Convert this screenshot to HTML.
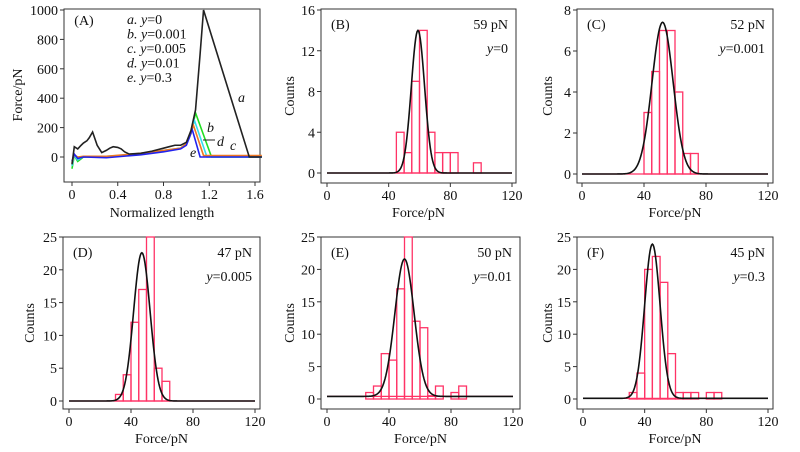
<!DOCTYPE html>
<html><head><meta charset="utf-8"><style>
body{margin:0;background:#fff;}
svg{display:block;}
svg text{font-family:"Liberation Serif","Times New Roman",serif;}
</style></head><body>
<svg id="fig" width="800" height="452" viewBox="0 0 800 452" font-family="Liberation Serif, serif"></svg>
<script>
const histBins=[0,5,10,15,20,25,30,35,40,45,50,55,60,65,70,75,80,85,90,95,100,105,110,115];
const countsB=[0,0,0,0,0,0,0,0,0,4,2,9,14,4,2,2,2,0,0,1,0,0,0,0];
const countsC=[0,0,0,0,0,0,0,0,3,5,7,7,4,1,1,0,0,0,0,0,0,0,0,0];
const countsD=[0,0,0,0,0,0,1,4,12,17,25,5,3,0,0,0,0,0,0,0,0,0,0,0];
const countsE=[0,0,0,0,0,1,2,7,6,17,25,12,11,0.5,2,0,1,2,0,0,0,0,0,0];
const countsF=[0,0,0,0,0,0,1,4,20,22,18,7,1,1,1,0,1,1,0,0,0,0,0,0];
const fitMeans=[59,52,47,50,45];
const fitPeaks=[14,7.4,22.6,21.2,23.8];
const fitSigmas=[4.3,6.8,5.3,6.2,5.0];
const fitBase=[0,0,0,0.4,0.1];
const panelLabels=["(B)","(C)","(D)","(E)","(F)"];
const forceLabels=["59 pN","52 pN","47 pN","50 pN","45 pN"];
const yLabels=["0","0.001","0.005","0.01","0.3"];
const yMaxes=[16,8,25,25,25];
const yTickSteps=[4,2,5,5,5];
const xTicks=[0,40,80,120];
// panel A
const aTicksX=[0,0.4,0.8,1.2,1.6];
const aTicksY=[0,200,400,600,800,1000];
const curveA_x=[0,0.02,0.05,0.08,0.1,0.13,0.15,0.18,0.22,0.26,0.3,0.33,0.36,0.4,0.43,0.46,0.5,0.6,0.7,0.8,0.85,0.9,0.95,1.0,1.04,1.08,1.12,1.15,1.55,1.66];
const curveA_y=[-50,70,55,80,95,110,130,170,80,30,45,60,70,65,55,35,20,25,40,60,70,80,80,100,180,320,700,1000,0,0];
const curveB_x=[0,0.02,0.05,0.1,0.3,0.6,0.8,0.95,1.0,1.04,1.08,1.22,1.66];
const curveB_y=[-80,10,-30,0,0,20,40,60,90,160,300,0,0];
const curveC_x=[0,0.02,0.05,0.1,0.3,0.6,0.8,0.95,1.0,1.04,1.07,1.18,1.66];
const curveC_y=[-60,10,-20,5,5,20,45,60,90,160,250,0,0];
const curveD_x=[0,0.02,0.05,0.1,0.3,0.6,0.8,0.95,1.0,1.04,1.06,1.15,1.66];
const curveD_y=[-40,15,0,5,5,25,45,60,90,160,220,10,10];
const curveE_x=[0,0.02,0.05,0.1,0.3,0.6,0.8,0.95,1.0,1.03,1.05,1.12,1.66];
const curveE_y=[-30,20,-10,0,-5,15,35,55,80,140,190,0,0];

const NS="http://www.w3.org/2000/svg";
const svg=document.getElementById('fig');
function mk(tag,attrs,parent){const e=document.createElementNS(NS,tag);for(const k in attrs)e.setAttribute(k,attrs[k]);(parent||svg).appendChild(e);return e;}
function txt(x,y,s,attrs,parent){const t=mk('text',Object.assign({x:x,y:y,'font-size':14,fill:'#111','font-family':'Liberation Serif, serif'},attrs||{}),parent);t.textContent=s;return t;}

// Panel A
(function(){
 const g=mk('g',{});
 
 
 const L=64,R=260,T=9,B=182;
 const sx=v=>72+v*(255-72)/1.6, sy=v=>157-v*(157-10)/1000;
 const box=mk('rect',{x:L,y:T,width:R-L,height:B-T,fill:'none',stroke:'#333','stroke-width':1},g);
 
 
 aTicksX.forEach(v=>{mk('line',{x1:sx(v),x2:sx(v),y1:B,y2:B+4,stroke:'#333'},g);const t=txt(sx(v),B+17,String(v),{'text-anchor':'middle'},g);});
 aTicksY.forEach(v=>{mk('line',{x1:L-4,x2:L,y1:sy(v),y2:sy(v),stroke:'#333'},g);const t=txt(L-6,sy(v)+5,String(v),{'text-anchor':'end'},g);});
 const curves=[[curveB_x,curveB_y,'#22dd22','curve-b'],[curveC_x,curveC_y,'#33ddee','curve-c'],[curveD_x,curveD_y,'#ee7722','curve-d'],[curveE_x,curveE_y,'#2222ee','curve-e'],[curveA_x,curveA_y,'#222','curve-a']];
 curves.forEach(c=>{const p=mk('polyline',{points:c[0].map((x,i)=>sx(x)+','+sy(c[1][i])).join(' '),fill:'none',stroke:c[2],'stroke-width':1.6},g);});
 const t1=txt(sx(0.02),25,'(A)',{},g);
 const leg=['a. y=0','b. y=0.001','c. y=0.005','d. y=0.01','e. y=0.3'];
 leg.forEach((s,i)=>{const p=s.split(' ');const t=mk('text',{x:127,y:24+i*14.5,'font-size':14,fill:'#111','font-style':'italic','font-family':'Liberation Serif, serif'},g);t.textContent=p[0]+' '+p[1].replace(/=.*/,'');const ts=mk('tspan',{'font-style':'normal'},t);ts.textContent=p[1].replace(/^y/,'');});
 [['a',238,102],['b',207,132],['d',217,146],['c',230,150],['e',190,157]].forEach(a=>{const t=txt(a[1],a[2],a[0],{'font-style':'italic'},g);});
 mk('line',{x1:203,y1:140,x2:215,y2:140,stroke:'#222'},g);
 const xt=txt(162,217,'Normalized length',{'text-anchor':'middle'},g);
 const yt=txt(0,0,'Force/pN',{'text-anchor':'middle',transform:'translate(22,95) rotate(-90)'},g);
})();

const panels=[
 {L:321,R:516,T:9,B:183,x0:327,x120:512,y0:173,yT:10,counts:countsB,cx:290},
 {L:577,R:773,T:9,B:183,x0:582,x120:768,y0:174,yT:10,counts:countsC,cx:548},
 {L:63,R:260,T:237,B:409,x0:69,x120:255,y0:401,yT:237,counts:countsD,cx:30},
 {L:321,R:520,T:237,B:409,x0:327,x120:513,y0:399,yT:237,counts:countsE,cx:290},
 {L:577,R:773,T:237,B:409,x0:583,x120:768,y0:399,yT:237,counts:countsF,cx:548}];
panels.forEach((P,k)=>{
 const g=mk('g',{});
 
 
 const sx=v=>P.x0+v*(P.x120-P.x0)/120, sy=v=>P.y0-v*(P.y0-P.yT)/yMaxes[k];
 const box=mk('rect',{x:P.L,y:P.T,width:P.R-P.L,height:P.B-P.T,fill:'none',stroke:'#333'},g);
 
 
 xTicks.forEach(v=>{mk('line',{x1:sx(v),x2:sx(v),y1:P.B,y2:P.B+4,stroke:'#333'},g);const t=txt(sx(v),P.B+17,String(v),{'text-anchor':'middle'},g);});
 for(let v=0;v<=yMaxes[k];v+=yTickSteps[k]){mk('line',{x1:P.L-4,x2:P.L,y1:sy(v),y2:sy(v),stroke:'#333'},g);const t=txt(P.L-6,sy(v)+5,String(v),{'text-anchor':'end'},g);}
 const base=mk('line',{x1:sx(0),x2:sx(120),y1:sy(fitBase[k]),y2:sy(fitBase[k]),stroke:'#ff3366','stroke-width':1.3},g);
 
 histBins.forEach((b,i)=>{const c=P.counts[i];if(!c)return;const r=mk('rect',{x:sx(b),y:sy(c),width:sx(b+5)-sx(b),height:sy(0)-sy(c),fill:'none',stroke:'#ff3366','stroke-width':1.3},g);});
 const pts=[];for(let v=0;v<=120;v+=0.5){const y=fitBase[k]+fitPeaks[k]*Math.exp(-Math.pow(v-fitMeans[k],2)/(2*fitSigmas[k]*fitSigmas[k]));pts.push(sx(v)+','+sy(y));}
 const fit=mk('polyline',{points:pts.join(' '),fill:'none',stroke:'#111','stroke-width':1.6},g);
 
 const pl=txt(P.L+10,P.T+20,panelLabels[k],{},g);
 const fl=txt(P.R-8,P.T+20,forceLabels[k],{'text-anchor':'end'},g);
 const yl=mk('text',{x:P.R-8,y:P.T+44,'font-size':14,fill:'#111','text-anchor':'end','font-family':'Liberation Serif, serif'},g);
 const it=mk('tspan',{'font-style':'italic'},yl);it.textContent='y';const nt=mk('tspan',{},yl);nt.textContent='='+yLabels[k];
 
 const xt=txt((P.L+P.R)/2,P.B+34,'Force/pN',{'text-anchor':'middle'},g);
 const yt=txt(0,0,'Counts',{'text-anchor':'middle',transform:'translate('+(P.cx+4)+','+((P.T+P.B)/2)+') rotate(-90)'},g);
});
</script>
</body></html>
